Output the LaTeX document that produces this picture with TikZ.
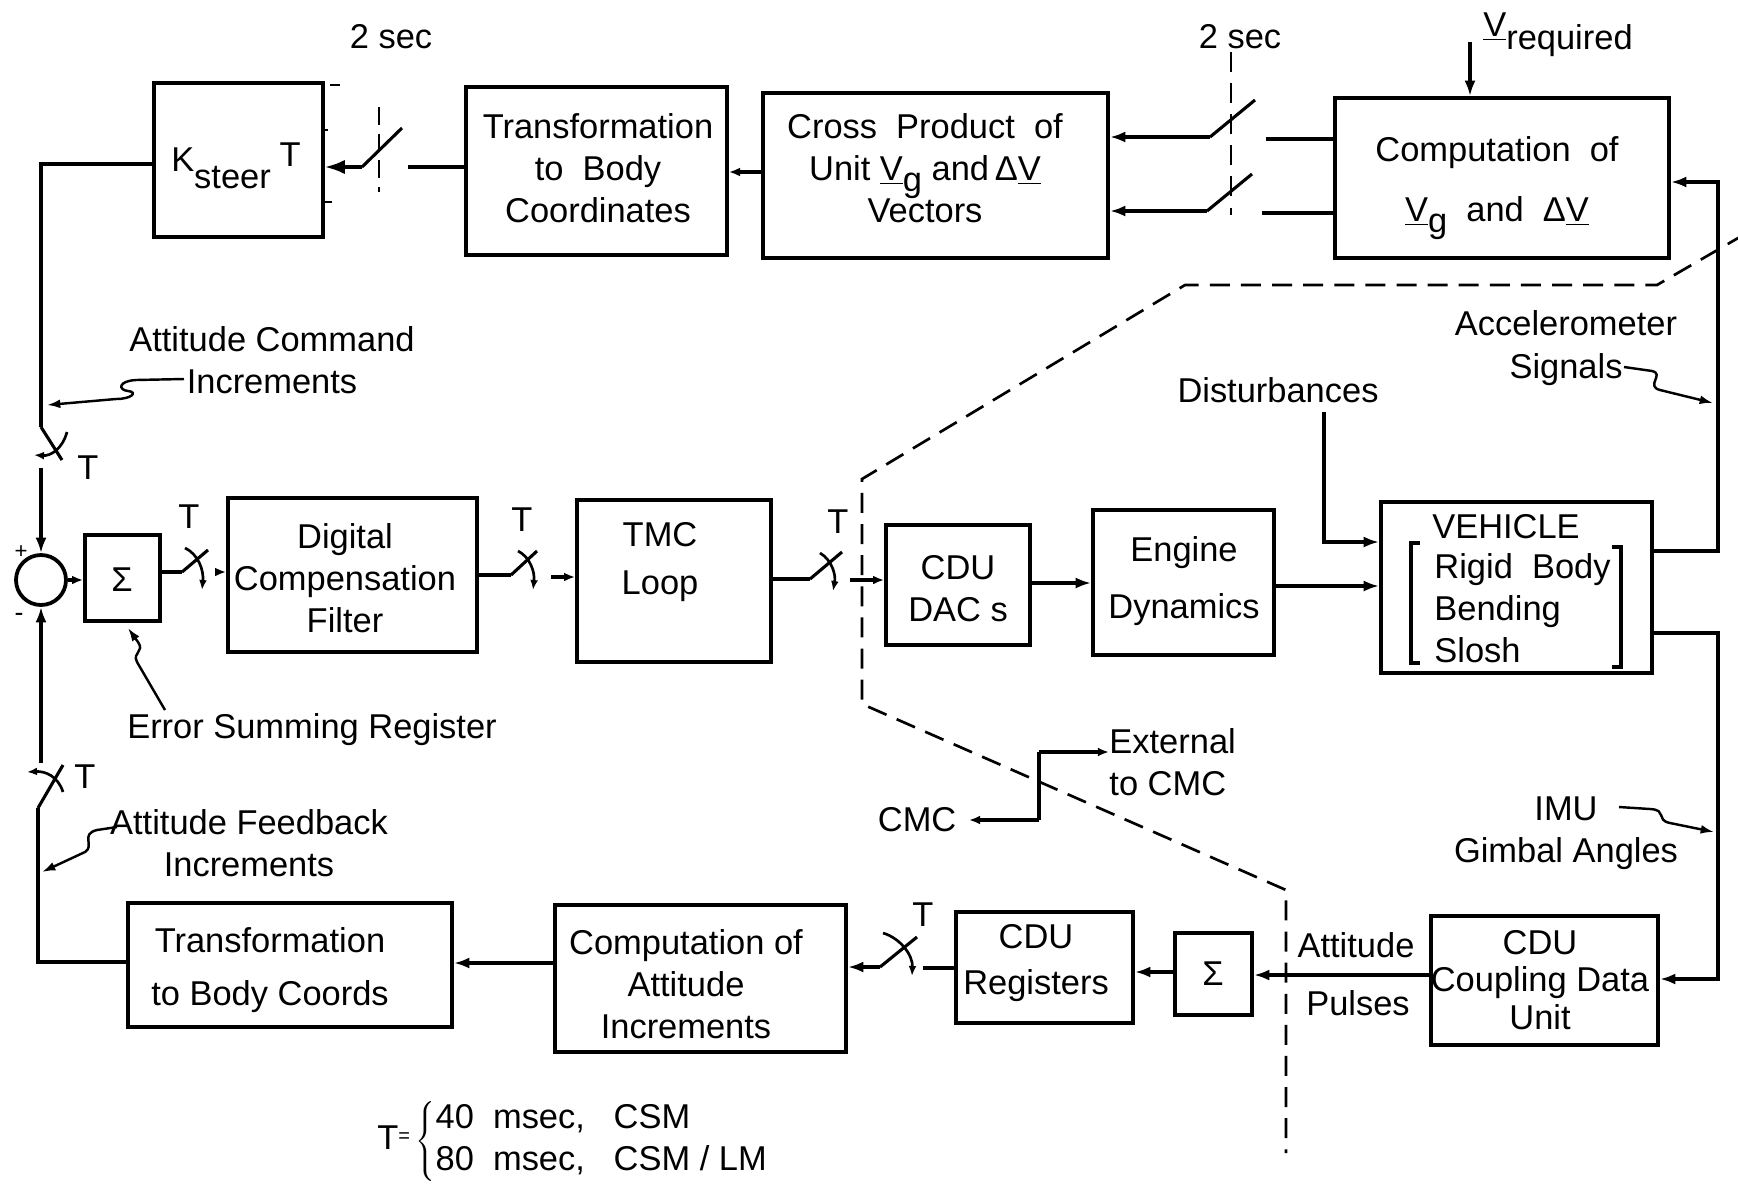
\documentclass[tikz,border=0pt]{standalone}
\usepackage{fontspec}
\setmainfont{Liberation Sans}
\usetikzlibrary{arrows.meta}
\newcommand{\uV}{\underline{V}}
\begin{document}
\begin{tikzpicture}[x=0.45pt,y=-0.45pt,
  box/.style={draw, line width=1.7pt, inner sep=0pt},
  bx/.style 2 args={box, minimum width=#1*0.45pt, minimum height=#2*0.45pt},
  lbl/.style={inner sep=0pt, align=center, font=\fontsize{15.5pt}{19pt}\selectfont},
  ln/.style={line width=1.45pt},
  arr/.style={ln, -{Latex[length=7pt,width=5pt]}},
  arrs/.style={ln, -{Latex[length=5pt,width=4pt]}},
  arrb/.style={ln, -{Latex[length=9pt,width=6.5pt]}},
  dsh/.style={line width=1.2pt, dash pattern=on 9pt off 5pt},
  sw/.style={line width=1.4pt},
  swarc/.style={line width=1.2pt, -{Latex[length=4.5pt,width=3.5pt]}},
  sq/.style={line width=1.1pt, -{Latex[length=6pt,width=4pt]}},
]
\useasboundingbox[fill=white] (0,0) rectangle (1738,1183);

% ---------- boxes ----------
\node[bx={169}{154}] (ksteer) at (238.5,160) {};
\node[bx={261}{168}] (trans1) at (596.5,171) {};
\node[bx={345}{165}] (cross) at (935.5,175.5) {};
\node[bx={334}{160}] (comp) at (1502,178) {};
\node[bx={75}{86}] (sig1) at (122.5,578) {};
\node[bx={249}{154}] (dcf) at (352.5,575) {};
\node[bx={194}{162}] (tmc) at (674,581) {};
\node[bx={144}{120}] (dac) at (958,585) {};
\node[bx={181}{145}] (eng) at (1183.5,582.5) {};
\node[bx={271}{171}] (veh) at (1516.5,587.5) {};
\node[bx={227}{129}] (cdu) at (1544.5,980.5) {};
\node[bx={77}{82}] (sig2) at (1213.5,974) {};
\node[bx={177}{111}] (reg) at (1044.5,967.5) {};
\node[bx={291}{147}] (catt) at (700.5,978.5) {};
\node[bx={324}{124}] (trans2) at (290,965) {};
\node[draw, circle, line width=1.7pt, minimum size=50*0.45pt, inner sep=0pt] (sum) at (41,580) {};

% ---------- box texts ----------
\node[lbl] (ksteer-t) at (236,166) {K\raisebox{-8pt}{steer}\hspace{4pt}\raisebox{2pt}{T}};
\node[lbl] (trans1-t) at (598,168) {Transformation\\to~ Body\\Coordinates};
\node[lbl] (cross-t) at (925,168) {Cross~ Product~ of\\Unit \uV\raisebox{-5pt}{g} and\,Δ\uV\\Vectors};
\node[lbl] (comp-t) at (1497,188) {Computation~ of\\[8pt]\uV\raisebox{-5pt}{g}~ and~ Δ\uV};
\node[lbl] (sig1-t) at (122,580) {Σ};
\node[lbl] (dcf-t) at (345,578) {Digital\\Compensation\\Filter};
\node[lbl] (tmc-t) at (660,562) {TMC\\[3pt]Loop};
\node[lbl] (dac-t) at (958,589) {CDU\\DAC s};
\node[lbl] (eng-t) at (1184,581) {Engine\\[7pt]Dynamics};
\node[lbl] (veh-t) at (1506,527) {VEHICLE};
\node[lbl, align=left, anchor=west] (veh-l) at (1434,608) {Rigid~ Body\\Bending\\Slosh};
\node[lbl] (cdu-t) at (1540,980) {CDU\\[-2pt]Coupling Data\\[-2pt]Unit};
\node[lbl] (sig2-t) at (1213,974) {Σ};
\node[lbl] (reg-t) at (1036,963) {CDU\\[2pt]Registers};
\node[lbl] (catt-t) at (686,984) {Computation of\\Attitude\\Increments};
\node[lbl] (trans2-t) at (270,970) {Transformation\\[5pt]to Body Coords};
\draw[ln] (1420,543) -- (1411,543) -- (1411,663) -- (1420,663);
\draw[ln] (1612,547) -- (1621,547) -- (1621,667) -- (1612,667);

% ---------- free labels ----------
\node[lbl] (sec1) at (391,37) {2 sec};
\node[lbl] (sec2) at (1240,37) {2 sec};
\node[lbl] (vreq) at (1558,35) {\uV\raisebox{-6pt}{required}};
\node[lbl] (acmd) at (272,360) {Attitude Command\\Increments};
\node[lbl] (err) at (312,730) {Error Summing Register};
\node[lbl] (afb) at (249,843) {Attitude Feedback\\Increments};
\node[lbl] (acc) at (1566,348) {Accelerometer\\Signals};
\node[lbl] (dist) at (1278,390) {Disturbances};
\node[lbl, align=left, anchor=west] (ext) at (1109,762) {External\\to CMC};
\node[lbl, anchor=east, inner xsep=5.5pt] (cmc) at (969,820) {CMC};
\node[lbl] (imu) at (1566,833) {IMU\\Gimbal Angles};
\node[lbl] (attp) at (1356,945) {Attitude};
\node[lbl] (puls) at (1358,1003) {Pulses};
\node[lbl] (t1) at (88,468) {T};
\node[lbl] (t2) at (85,777) {T};
\node[lbl] (t3) at (189,517) {T};
\node[lbl] (t4) at (522,520) {T};
\node[lbl] (t5) at (838,522) {T};
\node[lbl] (t6) at (923,915) {T};
\node[lbl, font=\fontsize{10pt}{12pt}\selectfont] (plus) at (21,552) {+};
\node[lbl, font=\fontsize{12pt}{12pt}\selectfont] (minus) at (19,617) {-};
\node[lbl, anchor=west] (tdef) at (377,1141) {T\raisebox{3pt}{\small =}\,$\left\{\mbox{\begin{tabular}{@{}l@{}}40~~msec,~~~CSM\\80~~msec,~~~CSM / LM\end{tabular}}\right.$};

% ---------- top row ----------
\coordinate (su1a) at (1210,137);
\coordinate (su1b) at (1266,139);
\draw[arr] (su1a) -- (cross.east |- su1a);
\draw[sw] (su1a) -- (1255,100);
\draw[ln] (comp.west |- su1b) -- (su1b);
\coordinate (su2a) at (1207,211);
\coordinate (su2b) at (1262,213);
\draw[arr] (su2a) -- (cross.east |- su2a);
\draw[sw] (su2a) -- (1252,174);
\draw[ln] (comp.west |- su2b) -- (su2b);
\draw[dsh] (1231,52) -- (1231,215);
\coordinate (vreqin) at (1470,42);
\draw[arr] (vreqin) -- (vreqin |- comp.north);

\draw[arrs] (cross.west |- 0,172) -- (trans1.east |- 0,172);
\coordinate (s3a) at (362,167);
\coordinate (s3b) at (408,167);
\draw[ln] (trans1.west |- s3b) -- (s3b);
\draw[sw] (s3a) -- (402,128);
\draw[arrb] (s3a) -- (ksteer.east |- s3a);
\draw[line width=1.2pt, dash pattern=on 8pt off 4pt] (379,107) -- (379,192);
\draw[line width=1.1pt] (330,85) -- (340,85) (323,130) -- (328,130) (323,202) -- (332,202);

% ---------- left column ----------
\coordinate (s4a) at (41,427);
\coordinate (s4b) at (41,468);
\draw[ln] (ksteer.west |- 0,164) -| (s4a);
\draw[sw] (s4a) -- (62,460);
\draw[swarc] (67,432) .. controls (62,450) and (50,456) .. (34,455);
\draw[arr] (s4b) -- (sum.north);
\coordinate (s5b) at (38,808);
\coordinate (s5a) at (41,763);
\draw[ln] (trans2.west |- 0,962) -| (s5b);
\draw[sw] (s5b) -- (63,765);
\draw[swarc] (63,792) .. controls (58,776) and (45,771) .. (27,772);
\draw[arr] (s5a) -- (sum.south);
\draw[arrs] (sum.east) -- (sig1.west |- sum.east);

% ---------- middle row ----------
\coordinate (s6a) at (182,572);
\coordinate (s6b) at (216,572);
\draw[ln] (sig1.east |- s6a) -- (s6a);
\draw[sw] (s6a) -- (208,550);
\draw[swarc] (185,548) .. controls (198,554) and (204,570) .. (202,590);
\draw[arrs] (s6b) -- (dcf.west |- s6b);
\coordinate (s7a) at (511,575);
\coordinate (s7b) at (551,577);
\draw[ln] (dcf.east |- s7a) -- (s7a);
\draw[sw] (s7a) -- (537,551);
\draw[swarc] (518,551) .. controls (530,557) and (535,572) .. (533,590);
\draw[arrs] (s7b) -- (tmc.west |- s7b);
\coordinate (s8a) at (810,579);
\coordinate (s8b) at (850,580);
\draw[ln] (tmc.east |- s8a) -- (s8a);
\draw[sw] (s8a) -- (842,552);
\draw[swarc] (820,553) .. controls (832,560) and (836,575) .. (833,591);
\draw[arrs] (s8b) -- (dac.west |- s8b);
\draw[arr] (dac.east |- 0,583) -- (eng.west |- 0,583);
\draw[arr] (eng.east |- 0,586) -- (veh.west |- 0,586);
\coordinate (dst) at (1324,412);
\draw[arr] (dst) -- (1324,542) -- (veh.west |- 0,542);
\draw[arr] (veh.east |- 0,551) -- (1718,551) -- (1718,182) -- (comp.east |- 0,182);
\draw[arr] (veh.east |- 0,633) -- (1718,633) -- (1718,979) -- (cdu.east |- 0,979);

% ---------- bottom row ----------
\draw[arr] (cdu.west |- 0,975) -- (sig2.east |- 0,975);
\draw[arr] (sig2.west |- 0,972) -- (reg.east |- 0,972);
\coordinate (s9b) at (923,968);
\coordinate (s9a) at (880,967);
\draw[ln] (reg.west |- s9b) -- (s9b);
\draw[sw] (s9a) -- (917,937);
\draw[swarc] (883,933) .. controls (900,938) and (913,955) .. (912,976);
\draw[arr] (s9a) -- (catt.east |- s9a);
\draw[arr] (catt.west |- 0,963) -- (trans2.east |- 0,963);

% ---------- CMC / External ----------
\coordinate (cj1) at (1039,752);
\coordinate (cj2) at (1039,820);
\draw[ln] (cj1) -- (cj2);
\draw[arrs] (cj1) -- (ext.west |- cj1);
\draw[arrs] (cj2) -- (cmc.east);

% ---------- squiggle leaders ----------
\coordinate (q1) at (184,379);
\draw[sq] (q1) -- (136,380) .. controls (118,381) and (118,390) .. (128,391) .. controls (138,392) and (132,399) .. (116,399) -- (47,405);
\coordinate (q2) at (117,827);
\draw[sq] (q2) -- (97,830) .. controls (80,834) and (95,846) .. (85,852) -- (42,872);
\coordinate (q3) at (1624,367);
\draw[sq] (q3) -- (1652,371) .. controls (1665,374) and (1645,386) .. (1660,390) -- (1713,403);
\coordinate (q4) at (1619,807);
\draw[sq] (q4) -- (1650,809) .. controls (1668,810) and (1655,820) .. (1670,823) -- (1714,832);
\coordinate (q5) at (165,710);
\draw[sq] (q5) -- (137,662) .. controls (132,652) and (145,652) .. (138,642) -- (128,628);

% ---------- dashed boundary ----------
\draw[dsh] (1745,234) -- (1657,285) -- (1185,285) -- (862,479) -- (862,704) -- (1286,890) -- (1286,1153);
\end{tikzpicture}
\end{document}
